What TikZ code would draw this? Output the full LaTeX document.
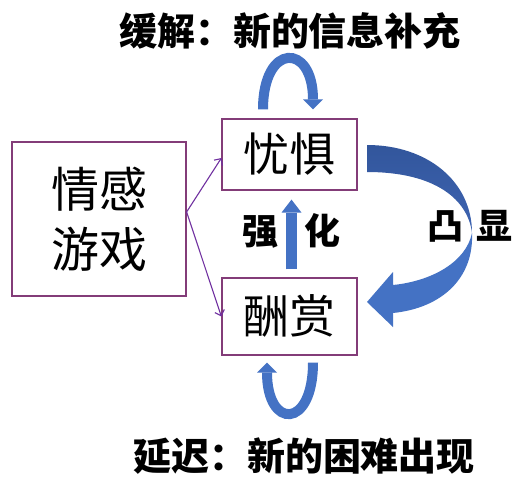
\documentclass[tikz,border=0pt]{standalone}
\usepackage{fontspec}
\newfontfamily\cjk{Noto Sans CJK SC}
\usetikzlibrary{arrows.meta}
\definecolor{boxpurple}{RGB}{131,60,120}
\definecolor{arrpurple}{RGB}{112,48,160}
\definecolor{pblue}{RGB}{68,114,196}
\definecolor{dblueA}{RGB}{50,86,156}
\definecolor{dblueB}{RGB}{62,100,178}
\newcommand\cjkst{\rule[-0.12em]{0pt}{1em}}
\begin{document}
\begin{tikzpicture}[x=1pt,y=-1pt,
  box/.style={draw=boxpurple,line width=1.2pt,inner sep=0pt,align=center,fill=white},
  link/.style={draw=arrpurple,line width=1.1pt,-{Straight Barb[length=5pt,width=10pt]}},
  bluelink/.style={draw=pblue,line width=10pt,-{Triangle[length=10pt,width=20pt,line width=0pt]}},
  bigtext/.style={font=\cjk\fontsize{46}{56}\selectfont},
  headtext/.style={font=\cjk\bfseries\fontsize{38}{46}\selectfont,inner sep=0pt},
  midtext/.style={font=\cjk\bfseries\fontsize{36}{44}\selectfont,inner sep=0pt}]
\useasboundingbox (0,0) rectangle (520,483);
\fill[white] (0,0) rectangle (520,483);

% boxes
\node[box,minimum width=174pt,minimum height=154pt,font=\cjk\fontsize{48}{60}\selectfont] (game) at (99,219) {\cjkst 情感\\\cjkst 游戏};
\node[box,bigtext,minimum width=135pt,minimum height=71pt] (fear) at (289.5,154.5) {\cjkst 忧惧};
\node[box,bigtext,minimum width=135pt,minimum height=77pt] (reward) at (289.5,316.5) {\cjkst 酬赏};

% labels
\node[headtext] (relief) at (290,31.5) {\cjkst 缓解：新的信息补充};
\node[headtext] (delay) at (304,456) {\cjkst 延迟：新的困难出现};
\node[midtext] (qiang) at (260,231) {\cjkst 强};
\node[midtext] (hua) at (322,231) {\cjkst 化};
\node[midtext] (tuxian) at (470,226) {\cjkst 凸\hspace{14pt}显};

% purple links
\coordinate (gsrc) at ([yshift=7pt]game.east);
\draw[link] (gsrc) -- ([yshift=-3.5pt]fear.west);
\draw[link] (gsrc) -- (reward.west);

% reinforce arrow
\draw[draw=pblue,line width=11pt,-{Triangle[length=13pt,width=20pt,line width=0pt]}]
  ([xshift=2pt,yshift=8pt]reward.north) -- ([xshift=2pt,yshift=-9pt]fear.south);

% loops
\draw[bluelink] ([xshift=-26.5pt,yshift=9pt]fear.north) .. controls +(0,-67) and +(0,-67) .. ([xshift=23.5pt,yshift=9pt]fear.north);
\draw[bluelink] ([xshift=23.5pt,yshift=-7pt]reward.south) .. controls +(0,67) and +(0,67) .. ([xshift=-22.5pt,yshift=-7pt]reward.south);

% big twisted curved arrow
\shade[top color=dblueA,bottom color=dblueB]
  (367,145) .. controls (428,145) and (472,182) .. (472,233)
  .. controls (468,200) and (436,172) .. (367,172) -- cycle;
\fill[pblue]
  (472,233) .. controls (474,278) and (442,308) .. (393,313)
  -- (393,327) -- (367,302) -- (393,272) -- (393,285)
  .. controls (432,281) and (466,262) .. (472,233) -- cycle;
\end{tikzpicture}
\end{document}
